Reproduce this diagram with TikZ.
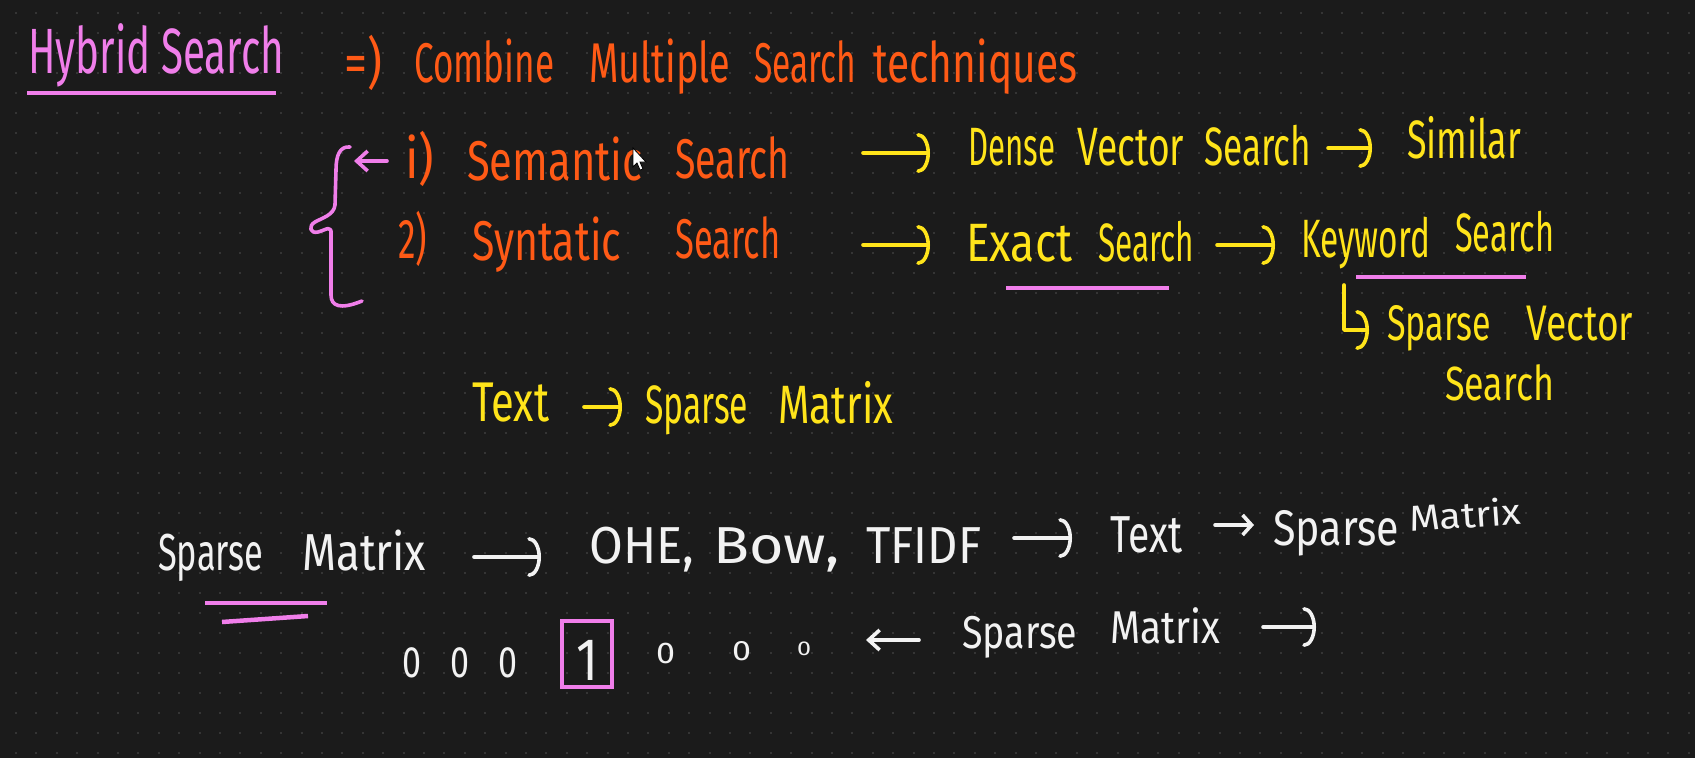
\documentclass[tikz,border=0pt]{standalone}
\usepackage{fontspec}
\setmainfont{Fira Sans}
\usetikzlibrary{arrows.meta}
\definecolor{bgc}{HTML}{1B1B1B}
\definecolor{dotc}{HTML}{353535}
\definecolor{hor}{HTML}{FF5A16}
\definecolor{hy}{HTML}{FFE41A}
\definecolor{hp}{HTML}{F07EEA}
\definecolor{hw}{HTML}{F2F2F2}
\newcommand{\fitw}[2]{\resizebox{#1pt}{\height}{#2}}
\newcommand{\fsz}[1]{\fontsize{#1}{#1}\selectfont}
\tikzset{
  txt/.style={inner sep=0pt, anchor=base west},
  otx/.style={txt, text=hor, font=\fsz{56}},
  ytx/.style={txt, text=hy, font=\fsz{54}},
  wtx/.style={txt, text=hw, font=\fsz{52}},
  stroke/.style={line width=3.6pt, line cap=round, line join=round},
  arcarr/.style={stroke, -{Arc Barb[length=12pt,width=40pt,line cap=round]}},
  barbarr/.style={stroke, -{Straight Barb[length=11pt,width=20pt]}},
  uline/.style={draw=hp, line width=4.5pt},
}
\begin{document}
\begin{tikzpicture}[x=1pt,y=-1pt]
\fill[bgc] (0,0) rectangle (1695,758);
\useasboundingbox (0,0) rectangle (1695,758);
\foreach \r in {0,...,37}
  \draw[dotc, line width=2pt, dash pattern=on 2pt off 18.4pt] (15,13+20*\r) -- (1695,13+20*\r);

% ---------- title row ----------
\node[txt, text=hp, font=\fsz{64}] (hyb) at (28,73) {\fitw{256}{Hybrid Search}};
\draw[uline] (27,93) -- (276,93);
\node[otx] (imp) at (344,82) {\fitw{38}{=)}};
\node[otx] (comb) at (414,82) {\fitw{140}{Combine}};
\node[otx] (mult) at (589,82) {\fitw{141}{Multiple}};
\node[otx] (srch0) at (754,82) {\fitw{102}{Search}};
\node[otx] (tech) at (873,82) {\fitw{204}{techniques}};

% ---------- brace ----------
\draw[hp, stroke] (350,147) .. controls (340,146) and (336,155) .. (336,170) -- (335,205)
  .. controls (334,215) and (322,218) .. (315,222)
  .. controls (308,226) and (310,234) .. (318,232)
  .. controls (326,230) and (332,224) .. (331,235) -- (331,295)
  .. controls (331,306) and (340,310) .. (362,301);
\coordinate (pa1) at (387,161);
\coordinate (pa2) at (354,161);
\draw[hp, barbarr] (pa1) -- (pa2);

% ---------- semantic / syntatic ----------
\node[otx] (i1) at (405,178) {\fitw{29}{i)}};
\node[otx] (sem) at (467,180) {\fitw{175}{Semantic}};
\node[otx] (srch1) at (675,178) {\fitw{114}{Search}};
\node[otx] (i2) at (398,258) {\fitw{29}{2)}};
\node[otx] (syn) at (472,260) {\fitw{149}{Syntatic}};
\node[otx] (srch2) at (675,258) {\fitw{105}{Search}};
% cursor
\filldraw[fill=white, draw=black, line width=0.8pt] (633,148) -- (633,167) -- (637,163) -- (640,170) -- (643,169) -- (640,162) -- (646,162) -- cycle;

\node[ytx] (dense) at (968,165) {\fitw{87}{Dense}};
\node[ytx] (vect) at (1077,165) {\fitw{107}{Vector}};
\node[ytx] (srch3) at (1204,165) {\fitw{107}{Search}};
\node[ytx] (sim) at (1407,158) {\fitw{114}{Similar}};
\node[ytx] (exact) at (966,261) {\fitw{106}{Exact}};
\node[ytx] (srch4) at (1098,261) {\fitw{96}{Search}};
\node[ytx] (key) at (1301,257) {\fitw{129}{Keyword}};
\node[ytx] (srch5) at (1455,251) {\fitw{99}{Search}};
\draw[uline] (1006,288) -- (1169,288);
\draw[uline] (1356,277) -- (1526,277);
\node[ytx, font=\fsz{50}] (spv1) at (1387,340) {\fitw{104}{Sparse}};
\node[ytx, font=\fsz{50}] (spv2) at (1526,340) {\fitw{107}{Vector}};
\node[ytx, font=\fsz{48}] (spv3) at (1445,400) {\fitw{109}{Search}};

\coordinate (y1s) at (863,153); \coordinate (y1e) at (930,153);
\coordinate (y2s) at (863,245); \coordinate (y2e) at (930,245);
\coordinate (y3s) at (1328,148); \coordinate (y3e) at (1372,148);
\coordinate (y4s) at (1217,245); \coordinate (y4e) at (1275,245);
\coordinate (y5s) at (1344,285); \coordinate (y5e) at (1369,330);
\draw[hy, arcarr] (y1s) -- (y1e);
\draw[hy, arcarr] (y2s) -- (y2e);
\draw[hy, arcarr] (y3s) -- (y3e);
\draw[hy, arcarr] (y4s) -- (y4e);
\draw[hy, arcarr] (y5s) |- (y5e);

% ---------- Text -> Sparse Matrix ----------
\node[ytx, font=\fsz{56}] (text1) at (472,421) {\fitw{77}{Text}};
\node[ytx] (spm1) at (645,423) {\fitw{103}{Sparse}};
\node[ytx] (spm2) at (778,423) {\fitw{115}{Matrix}};
\coordinate (y6s) at (584,407); \coordinate (y6e) at (622,407);
\draw[hy, arcarr] (y6s) -- (y6e);

% ---------- white rows ----------
\node[wtx] (wsp) at (158,570) {\fitw{105}{Sparse}};
\node[wtx] (wma) at (302,570) {\fitw{124}{Matrix}};
\draw[uline] (205,603) -- (327,603);
\draw[uline] (222,622) -- (308,616);
\node[wtx] (ohe) at (589,563) {\fitw{105}{OHE,}};
\node[wtx] (bow) at (713,563) {\fitw{126}{Bow,}};
\node[wtx] (tfidf) at (866,563) {\fitw{115}{TFIDF}};
\node[wtx] (wtext) at (1110,552) {\fitw{72}{Text}};
\node[wtx, font=\fsz{50}] (wspm1) at (1273,545) {\fitw{126}{Sparse}};
\node[wtx, font=\fsz{36}, rotate=4] (wspm2) at (1410,532) {\fitw{112}{Matrix}};
\coordinate (w1s) at (474,557); \coordinate (w1e) at (541,557);
\coordinate (w2s) at (1014,538); \coordinate (w2e) at (1072,538);
\coordinate (w3s) at (1215,525); \coordinate (w3e) at (1254,525);
\draw[hw, arcarr] (w1s) -- (w1e);
\draw[hw, arcarr] (w2s) -- (w2e);
\draw[hw, stroke, -{Straight Barb[length=9pt,width=20pt]}] (w3s) -- (w3e);

\node[wtx, font=\fsz{44}] (z1) at (402,677) {\fitw{19}{0}};
\node[wtx, font=\fsz{44}] (z2) at (450,677) {\fitw{19}{0}};
\node[wtx, font=\fsz{44}] (z3) at (498,677) {\fitw{19}{0}};
\node[inner sep=0pt, anchor=base, text=hw, font=\fsz{60}] (one) at (587,680) {\fitw{22}{1}};
\draw[hp, line width=3.6pt] (562,621) rectangle (612,687);
\node[wtx, font=\fsz{30}] (z4) at (656,663) {\fitw{19}{0}};
\node[wtx, font=\fsz{28}] (z5) at (732,660) {\fitw{19}{0}};
\node[wtx, font=\fsz{20}] (z6) at (797,655) {\fitw{14}{0}};
\node[wtx, font=\fsz{46}] (bsp) at (962,648) {\fitw{115}{Sparse}};
\node[wtx, font=\fsz{46}] (bma) at (1110,643) {\fitw{110}{Matrix}};
\coordinate (w4s) at (919,640); \coordinate (w4e) at (866,640);
\coordinate (w5s) at (1263,627); \coordinate (w5e) at (1316,627);
\draw[hw, barbarr] (w4s) -- (w4e);
\draw[hw, arcarr] (w5s) -- (w5e);
\end{tikzpicture}
\end{document}
